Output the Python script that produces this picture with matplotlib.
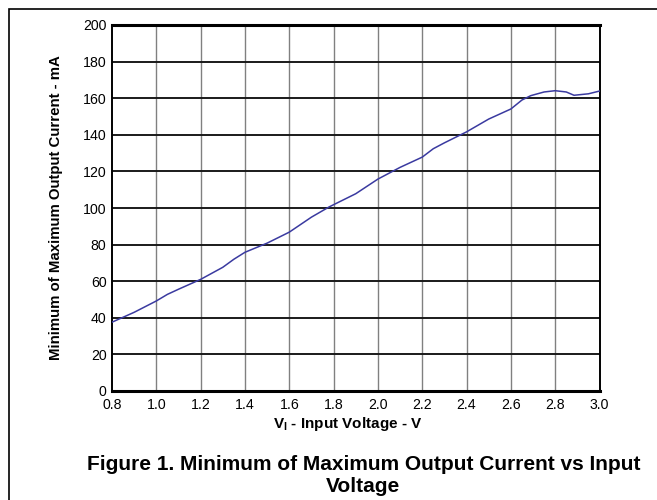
import matplotlib
matplotlib.use("Agg")
import matplotlib.pyplot as plt
from matplotlib.patches import Rectangle

# Input voltage (V) and minimum of maximum output current (mA)
voltage = [0.80, 0.85, 0.90, 1.00, 1.05, 1.10, 1.20, 1.30, 1.35, 1.40, 1.50,
           1.60, 1.70, 1.78, 1.80, 1.90, 2.00, 2.10, 2.20, 2.25, 2.30, 2.40,
           2.50, 2.60, 2.65, 2.69, 2.75, 2.80, 2.85, 2.885, 2.95, 3.00]
current = [37.6, 40.3, 43.0, 49.2, 52.8, 55.6, 61.0, 67.6, 72.0, 75.8, 80.8,
           86.8, 95.0, 100.6, 101.8, 107.8, 115.8, 122.2, 127.8, 132.4, 135.6, 141.6,
           148.6, 154.1, 159.0, 161.4, 163.4, 164.1, 163.4, 161.6, 162.4, 163.9]

x_ticks = [0.8, 1.0, 1.2, 1.4, 1.6, 1.8, 2.0, 2.2, 2.4, 2.6, 2.8, 3.0]
y_ticks = [0, 20, 40, 60, 80, 100, 120, 140, 160, 180, 200]

plt.rcParams["font.family"] = ["Liberation Sans", "DejaVu Sans"]

fig = plt.figure(figsize=(6.57, 5.0), dpi=100)
fig.patches.append(Rectangle((9 / 657, -0.05), 1.1, (500 - 9) / 500 + 0.05,
                             transform=fig.transFigure, fill=False,
                             edgecolor="black", linewidth=1.2))

ax = fig.add_axes([112 / 657, 109 / 500, (599.5 - 112) / 657, (391 - 25) / 500])
ax.set_xlim(0.8, 3.0)
ax.set_ylim(0, 200)
ax.set_xticks(x_ticks)
ax.set_yticks(y_ticks)
ax.set_xticklabels([f"{v:.1f}" for v in x_ticks], fontsize=10.2)
ax.set_yticklabels([str(v) for v in y_ticks], fontsize=10.2)
ax.tick_params(axis="x", length=0, pad=5)
ax.tick_params(axis="y", length=0, pad=4)

for v in x_ticks[1:-1]:
    ax.axvline(v, color="#808080", linewidth=1.0, zorder=1)
for v in y_ticks[1:-1]:
    ax.axhline(v, color="#1a1a1a", linewidth=1.4, zorder=1)
for side in ax.spines.values():
    side.set_linewidth(1.4)
ax.spines["top"].set_linewidth(2.2)
ax.spines["bottom"].set_linewidth(2.2)

ax.plot(voltage, current, color="#3a3aa0", linewidth=1.1, zorder=3)

ax.set_ylabel("Minimum of Maximum Output Current - mA", fontsize=10.8,
              fontweight="bold")
ax.yaxis.set_label_coords((63 - 112) / 487.5, 0.5)
ax.set_xlabel(r"V$_\mathregular{I}$ - Input Voltage - V",
              fontsize=11, fontweight="bold")
ax.xaxis.set_label_coords((347.5 - 112) / 487.5, (391 - 424) / 366)
ax.xaxis.label.set_va("center")

fig.text(0.553, (500 - 475.5) / 500, "Figure 1. Minimum of Maximum Output Current vs Input\nVoltage",
         ha="center", va="center", fontsize=15, fontweight="bold",
         linespacing=1.15)

fig.savefig("out.png", dpi=100)
